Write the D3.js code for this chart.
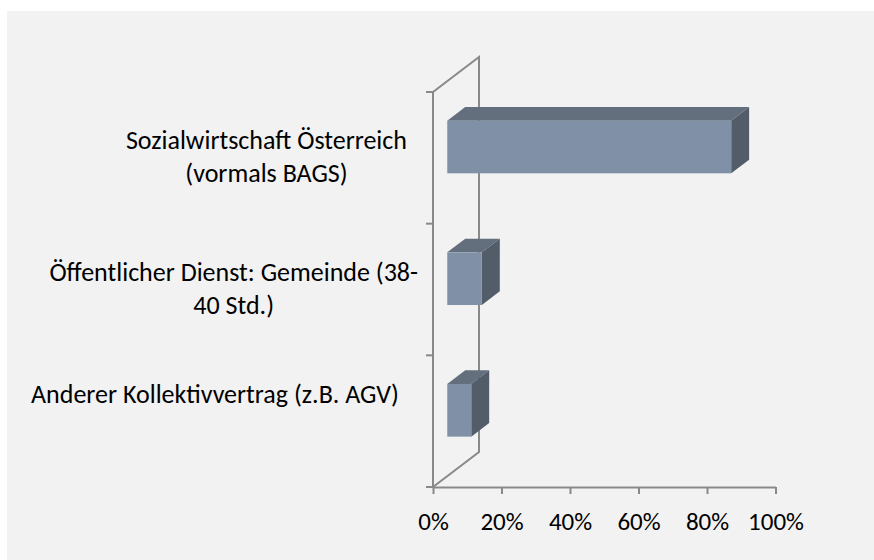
<!DOCTYPE html>
<html>
<head>
<meta charset="utf-8">
<script src="https://cdn.jsdelivr.net/npm/d3@7"></script>
<style>
  body { margin: 0; background: #fff; }
  svg text { font-family: Carlito, Calibri, Lato, sans-serif; fill: #000; }
</style>
</head>
<body>
<svg width="874" height="560"></svg>
<script>
// data
const categories = [
    ["Sozialwirtschaft Österreich", "(vormals BAGS)"],
    ["Öffentlicher Dienst: Gemeinde (38-", "40 Std.)"],
    ["Anderer Kollektivvertrag (z.B. AGV)"]
];
const values = [0.829, 0.101, 0.07];
const xTicks = [0, 0.2, 0.4, 0.6, 0.8, 1];

const svg = d3.select("svg");
const fontSize = 25;
const catFontSize = 26;

// background panel
svg.append("rect")
    .attr("x", 7).attr("y", 11)
    .attr("width", 867).attr("height", 549)
    .attr("fill", "#f2f2f2");

const ids = categories.map((d, i) => i);

const x = d3.scaleLinear().domain([0, 1]).range([433, 775.5]);
const y = d3.scaleBand().domain(ids).range([92, 487])
    .paddingInner(0.6).paddingOuter(0.3);

// 3d depth of the wall, bar sits in the middle part of it
const depth = {dx: 46, dy: -35};
const barFrom = 0.31, barTo = 0.70;
const axisColor = "#898989";

const x0 = x(0), yTop = y.range()[0], yBot = y.range()[1];

// wall outline
const wall = svg.append("g")
    .attr("fill", "none")
    .attr("stroke", axisColor)
    .attr("stroke-width", 2);
wall.append("path")
    .attr("d", d3.line()([
        [x0, yBot], [x0 + depth.dx, yBot + depth.dy],
        [x0 + depth.dx, yTop + depth.dy], [x0, yTop]
    ]));

// left axis line and ticks at band borders
wall.append("line")
    .attr("x1", x0).attr("x2", x0)
    .attr("y1", yTop).attr("y2", yBot);
wall.selectAll(".ytick")
    .data(d3.range(categories.length + 1))
    .enter().append("line")
    .attr("class", "ytick")
    .attr("x1", x0 - 7).attr("x2", x0)
    .attr("y1", i => yTop + i * (yBot - yTop) / categories.length)
    .attr("y2", i => yTop + i * (yBot - yTop) / categories.length);

// bars (front, top, side faces)
const bars = svg.selectAll(".bar")
    .data(values)
    .enter().append("g")
    .attr("class", "bar");

bars.each(function(v, i) {
    const g = d3.select(this);
    const fx = x0 + depth.dx * barFrom;
    const fy = y(i) + depth.dy * barFrom;
    const w = x(v) - x(0);
    const h = y.bandwidth();
    const bdx = depth.dx * (barTo - barFrom);
    const bdy = depth.dy * (barTo - barFrom);

    g.append("path")
        .attr("fill", "#646f7e")
        .attr("d", d3.line()([[fx, fy], [fx + bdx, fy + bdy], [fx + w + bdx, fy + bdy], [fx + w, fy]]) + "Z");
    g.append("path")
        .attr("fill", "#535d6a")
        .attr("d", d3.line()([[fx + w, fy], [fx + w + bdx, fy + bdy], [fx + w + bdx, fy + h + bdy], [fx + w, fy + h]]) + "Z");
    g.append("rect")
        .attr("x", fx).attr("y", fy)
        .attr("width", w).attr("height", h)
        .attr("fill", "#8091a7");
});

// bottom axis
const xAxis = svg.append("g")
    .attr("transform", `translate(0,${yBot})`)
    .call(d3.axisBottom(x).tickValues(xTicks).tickFormat(d3.format(".0%"))
        .tickSizeInner(7).tickSizeOuter(0).tickPadding(18));
xAxis.select(".domain").attr("stroke", axisColor).attr("stroke-width", 2);
xAxis.selectAll(".tick line").attr("stroke", axisColor).attr("stroke-width", 2);
xAxis.selectAll(".tick text")
    .attr("font-size", fontSize)
    .attr("font-family", "Carlito, Calibri, Lato, sans-serif")
    .attr("fill", "#000");

// category labels: lines centred, block right-aligned
const lineH = 33;
const labelOffset = [0, 0, -26];
const labelRight = [407, 418, 399];
const labels = svg.selectAll(".cat")
    .data(categories)
    .enter().append("text")
    .attr("class", "cat")
    .attr("font-size", catFontSize)
    .attr("text-anchor", "middle");

labels.each(function(lines, i) {
    const t = d3.select(this);
    const cy = y(i) + y.bandwidth() / 2 + labelOffset[i];
    lines.forEach((s, k) => {
        t.append("tspan")
            .attr("y", cy + (k - (lines.length - 1) / 2) * lineH + 8)
            .text(s);
    });
    const widest = d3.max(t.selectAll("tspan").nodes(), n => n.getComputedTextLength());
    t.selectAll("tspan").attr("x", labelRight[i] - widest / 2);
});
</script>
</body>
</html>
